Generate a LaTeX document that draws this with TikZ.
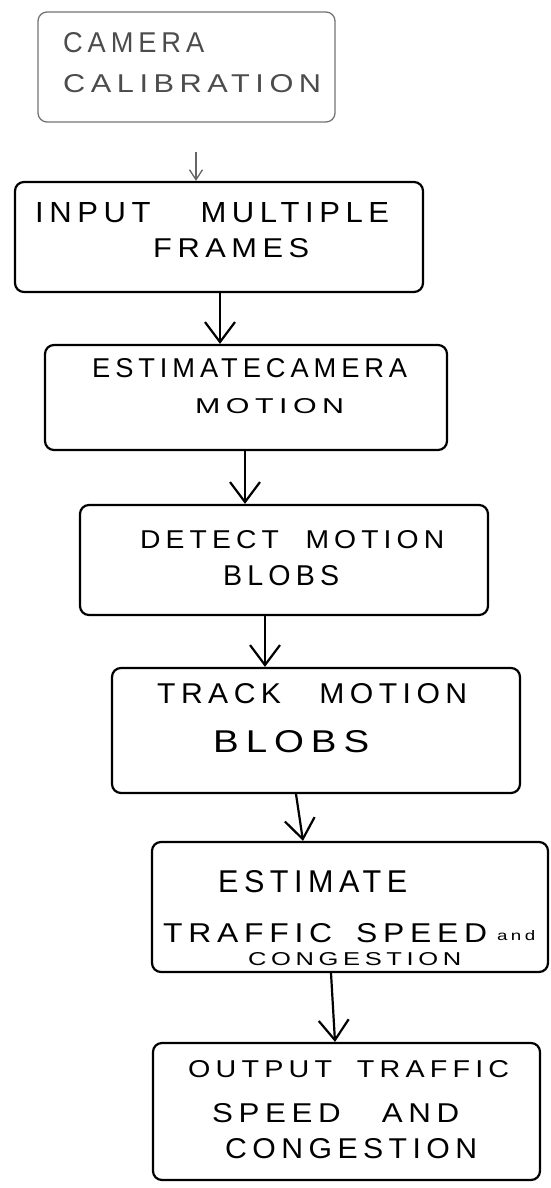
\documentclass[tikz,border=0pt]{standalone}
\usepackage{graphicx}
\usepackage{fontspec}
\setmainfont{Liberation Sans}[LetterSpace=18]
\usetikzlibrary{arrows.meta}
\newcommand{\hw}[3]{\resizebox{#1pt}{#2pt}{\fontsize{27}{27}\selectfont #3}}
\begin{document}
\begin{tikzpicture}[x=1pt,y=-1pt,
  box/.style={draw=black, line width=2.2pt, rounded corners=9pt, inner sep=0pt},
  faintbox/.style={draw=black!55, line width=1.3pt, rounded corners=9pt, inner sep=0pt},
  txt/.style={inner sep=0pt, anchor=base west},
  ftxt/.style={txt, text=black!70},
  flow/.style={line width=2.2pt, -{Straight Barb[length=20pt,width=30pt,line width=2.2pt]}},
  faintflow/.style={line width=1.3pt, draw=black!60, -{Straight Barb[length=10pt,width=13pt,line width=1.3pt]}}]
\useasboundingbox (0,0) rectangle (550,1188);

% boxes
\node[faintbox, minimum width=297pt, minimum height=110pt] (b1) at (186.5,67) {};
\node[box, minimum width=408pt, minimum height=110pt] (b2) at (219,237) {};
\node[box, minimum width=402pt, minimum height=105pt] (b3) at (246,397.5) {};
\node[box, minimum width=408pt, minimum height=110pt] (b4) at (284,560) {};
\node[box, minimum width=408pt, minimum height=125pt] (b5) at (316,730.5) {};
\node[box, minimum width=396pt, minimum height=130pt] (b6) at (350,907) {};
\node[box, minimum width=387pt, minimum height=137pt] (b7) at (346.5,1111.5) {};

% texts
\node[ftxt] (t1a) at (63,53) {\hw{141}{20}{CAMERA}};
\node[ftxt] (t1b) at (63,93) {\hw{258}{18}{CALIBRATION}};
\node[txt] (t2a) at (35,222) {\hw{354}{20}{INPUT \hspace{31pt}MULTIPLE}};
\node[txt] (t2b) at (153,257) {\hw{156}{19}{FRAMES}};
\node[txt] (t3a) at (92,377) {\hw{315}{19}{ESTIMATECAMERA}};
\node[txt] (t3b) at (195,413) {\hw{149}{15}{MOTION}};
\node[txt] (t4a) at (140,548) {\hw{304}{18}{DETECT \hspace{13pt}MOTION}};
\node[txt] (t4b) at (223,585) {\hw{116}{20}{BLOBS}};
\node[txt] (t5a) at (157,703) {\hw{310}{20}{TRACK \hspace{22pt}MOTION}};
\node[txt] (t5b) at (213,752) {\hw{156}{22}{BLOBS}};
\node[txt] (t6a) at (218,892) {\hw{189}{22}{ESTIMATE}};
\node[txt] (t6b) at (163,942) {\hw{324}{19}{TRAFFIC \hspace{8pt}SPEED}};
\node[txt] (t6d) at (497,940) {\hw{38}{10}{and}};
\node[txt] (t6c) at (248,965) {\hw{213}{13}{CONGESTION}};
\node[txt] (t7a) at (188,1077) {\hw{321}{17}{OUTPUT \hspace{11pt}TRAFFIC}};
\node[txt] (t7b) at (212,1122) {\hw{247}{19}{SPEED \hspace{23pt}AND}};
\node[txt] (t7c) at (225,1158) {\hw{252}{20}{CONGESTION}};

% connectors
\coordinate (c1) at (196,152);
\draw[faintflow] (c1) -- (b2.north -| c1);
\draw[flow] (b2.south -| 220,0) -- (b3.north -| 220,0);
\draw[flow] (b3.south -| 245,0) -- (b4.north -| 245,0);
\draw[flow] (b4.south -| 265,0) -- (b5.north -| 265,0);
\draw[flow] (b5.south -| 296,0) -- (b6.north -| 303,0);
\draw[flow] (b6.south -| 331,0) -- (b7.north -| 335,0);
\end{tikzpicture}
\end{document}
